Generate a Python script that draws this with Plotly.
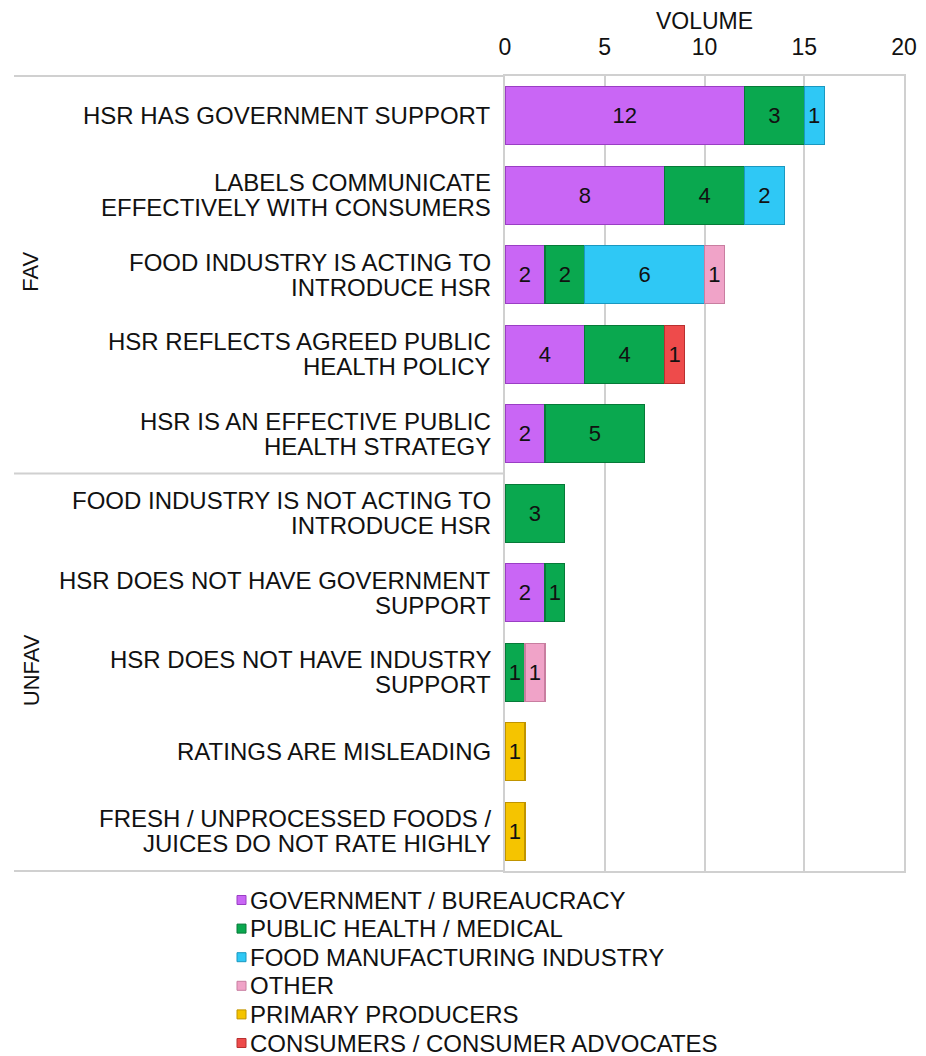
import plotly.graph_objects as go

categories = [
    "HSR HAS GOVERNMENT SUPPORT",
    "LABELS COMMUNICATE<br>EFFECTIVELY WITH CONSUMERS",
    "FOOD INDUSTRY IS ACTING TO<br>INTRODUCE HSR",
    "HSR REFLECTS AGREED PUBLIC<br>HEALTH POLICY",
    "HSR IS AN EFFECTIVE PUBLIC<br>HEALTH STRATEGY",
    "FOOD INDUSTRY IS NOT ACTING TO<br>INTRODUCE HSR",
    "HSR DOES NOT HAVE GOVERNMENT<br>SUPPORT",
    "HSR DOES NOT HAVE INDUSTRY<br>SUPPORT",
    "RATINGS ARE MISLEADING",
    "FRESH / UNPROCESSED FOODS /<br>JUICES DO NOT RATE HIGHLY",
]
series_names = [
    "GOVERNMENT / BUREAUCRACY",
    "PUBLIC HEALTH / MEDICAL",
    "FOOD MANUFACTURING INDUSTRY",
    "OTHER",
    "PRIMARY PRODUCERS",
    "CONSUMERS / CONSUMER ADVOCATES",
]
gov = [12, 8, 2, 4, 2, None, 2, None, None, None]
pub = [3, 4, 2, 4, 5, 3, 1, 1, None, None]
food = [1, 2, 6, None, None, None, None, None, None, None]
other = [None, None, 1, None, None, None, None, 1, None, None]
primary = [None, None, None, None, None, None, None, None, 1, 1]
consumers = [None, None, None, 1, None, None, None, None, None, None]
series_values = [gov, pub, food, other, primary, consumers]
groups = ["FAV", "UNFAV"]
x_ticks = [0, 5, 10, 15, 20]

colors = ["#C966F5", "#0AA84F", "#2FC8F5", "#F0A3C8", "#F5C400", "#EE4B4B"]
edges = ["#9A3EC4", "#067A38", "#1A98C0", "#C87EA0", "#C09400", "#B83030"]

FONT = "Liberation Sans, Arial, sans-serif"
TXT = "#111111"

W, H = 918, 1048
L, R, T, B = 497, 22, 68, 185
pw = W - L - R
ph = H - T - B
OFF = 8  # page body margin


def pxx(sx):
    """screen x -> paper x"""
    return (sx - OFF - L) / pw


def pxy(sy):
    """screen y -> paper y"""
    return (H - B - (sy - OFF)) / ph


fig = go.Figure()
for name, vals, c, e in zip(series_names, series_values, colors, edges):
    fig.add_trace(go.Bar(
        y=categories, x=vals, name=name, orientation="h",
        marker=dict(color=c, line=dict(color=e, width=1.2)),
        text=vals, texttemplate="%{x}", textposition="inside",
        insidetextanchor="middle", textangle=0, constraintext="none",
        textfont=dict(color=TXT, size=22, family=FONT),
        width=0.73, hoverinfo="x+name", showlegend=False,
    ))

fig.update_layout(
    barmode="stack",
    width=W, height=H,
    margin=dict(l=L, r=R, t=T, b=B, pad=0),
    plot_bgcolor="white", paper_bgcolor="white",
    font=dict(family=FONT, color=TXT, size=22),
    showlegend=False,
    xaxis=dict(
        side="top", range=[0, 20], tickvals=x_ticks, automargin=False,
        showgrid=True, gridcolor="#D0D0D0", gridwidth=2,
        showline=True, linecolor="#D0D0D0", linewidth=2, mirror=True,
        zeroline=False, ticks="", ticklabelstandoff=10,
        tickfont=dict(size=23, family=FONT, color=TXT),
        title=dict(text="VOLUME", font=dict(size=23, family=FONT, color=TXT), standoff=2),
    ),
    yaxis=dict(
        categoryorder="array", categoryarray=categories, autorange="reversed",
        automargin=False,
        showline=True, linecolor="#D0D0D0", linewidth=2, mirror=True,
        showgrid=False, ticks="", showticklabels=False,
    ),
)

# category labels with tight line spacing
LINE = 25
for cat in categories:
    lines = cat.split("<br>")
    n = len(lines)
    for i, ln in enumerate(lines):
        fig.add_annotation(
            text=ln, xref="paper", yref="y", x=pxx(493), y=cat,
            xanchor="right", yanchor="middle", showarrow=False,
            yshift=((n - 1) / 2 - i) * LINE,
            font=dict(size=24, family=FONT, color=TXT),
        )

# group separator lines
left_sx = 14
for yy, ref in [(1, "paper"), (0, "paper"), (4.5, "y")]:
    fig.add_shape(type="line", xref="paper", yref=ref,
                  x0=pxx(left_sx), x1=0, y0=yy, y1=yy,
                  line=dict(color="#D0D0D0", width=2))

# group labels
fig.add_annotation(text=groups[0], xref="paper", yref="y",
                   x=pxx(31), y=categories[2], textangle=-90, showarrow=False,
                   xanchor="center", yanchor="middle", yshift=3,
                   font=dict(size=22, family=FONT, color=TXT))
fig.add_annotation(text=groups[1], xref="paper", yref="y",
                   x=pxx(31), y=categories[7], textangle=-90, showarrow=False,
                   xanchor="center", yanchor="middle", yshift=2,
                   font=dict(size=22, family=FONT, color=TXT))

# legend built manually
leg_y0 = 900
leg_step = 28.6
for i, (name, c, e) in enumerate(zip(series_names, colors, edges)):
    sy = leg_y0 + i * leg_step
    fig.add_shape(type="rect", xref="paper", yref="paper",
                  x0=pxx(237), x1=pxx(246), y0=pxy(sy + 4.5), y1=pxy(sy - 4.5),
                  fillcolor=c, line=dict(color=e, width=1))
    fig.add_annotation(text=name, xref="paper", yref="paper",
                       x=pxx(248), y=pxy(sy), xanchor="left", yanchor="middle",
                       showarrow=False,
                       font=dict(size=24, family=FONT, color=TXT))

fig.write_html("out.html")
